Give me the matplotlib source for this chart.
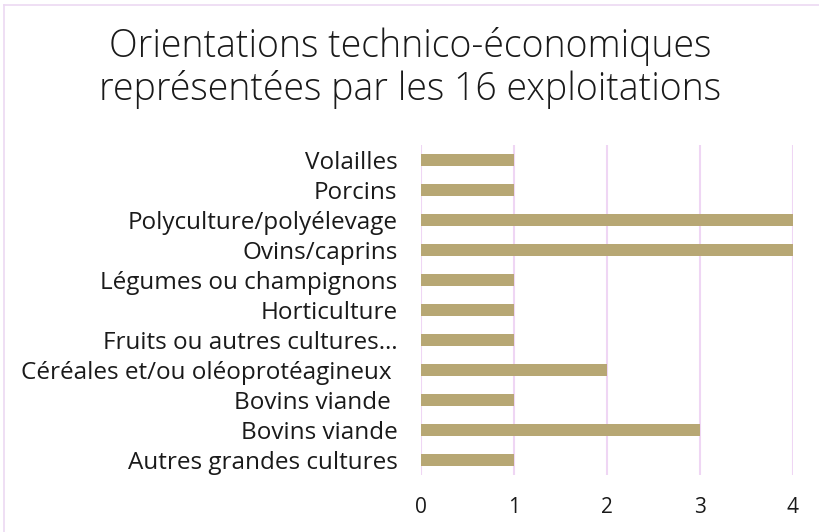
import matplotlib
matplotlib.use("Agg")
import matplotlib.pyplot as plt
from matplotlib.lines import Line2D

categories = ["Autres grandes cultures", "Bovins viande", "Bovins viande ",
              "Céréales et/ou oléoprotéagineux ", "Fruits ou autres cultures…",
              "Horticulture", "Légumes ou champignons", "Ovins/caprins",
              "Polyculture/polyélevage", "Porcins", "Volailles"]
values = [1, 3, 1, 2, 1, 1, 1, 4, 4, 1, 1]
xticks = [0, 1, 2, 3, 4]

plt.rcParams['font.family'] = ['Open Sans', 'DejaVu Sans']

fig = plt.figure(figsize=(8.2, 5.32), dpi=100)
ax = fig.add_axes([421/820, 57/532, 372/820, 330/532])

ypos = list(range(len(categories)))
ax.barh(ypos, values, height=0.37, color="#b7a774", zorder=3)
ax.set_ylim(-0.5, len(categories) - 0.5)
ax.set_xlim(0, 4)
ax.set_xticks(xticks)
ax.set_xticklabels([str(t) for t in xticks])
ax.set_yticks(ypos)
ax.set_yticklabels(categories)
ax.tick_params(axis='both', length=0, colors="#1a1a1a")
ax.tick_params(axis='x', pad=16, labelsize=15)
ax.tick_params(axis='y', pad=17, labelsize=17.5)
ax.grid(axis='x', color="#efd6f4", linewidth=1.5, zorder=0)
for s in ax.spines.values():
    s.set_visible(False)

fig.text(0.5, 1 - 57/532, "Orientations technico-économiques", ha='center', va='baseline',
         fontsize=27, fontweight=300, color="#1a1a1a")
fig.text(0.5, 1 - 100/532, "représentées par les 16 exploitations", ha='center', va='baseline',
         fontsize=27, fontweight=300, color="#1a1a1a")

fig.add_artist(Line2D([4.5/820, 1], [1 - 5/532, 1 - 5/532], transform=fig.transFigure,
                      color="#ecd9f2", linewidth=1.2))
fig.add_artist(Line2D([4.5/820, 4.5/820], [0, 1 - 5/532], transform=fig.transFigure,
                      color="#ecd9f2", linewidth=1.2))

fig.savefig("out.png", dpi=100)
